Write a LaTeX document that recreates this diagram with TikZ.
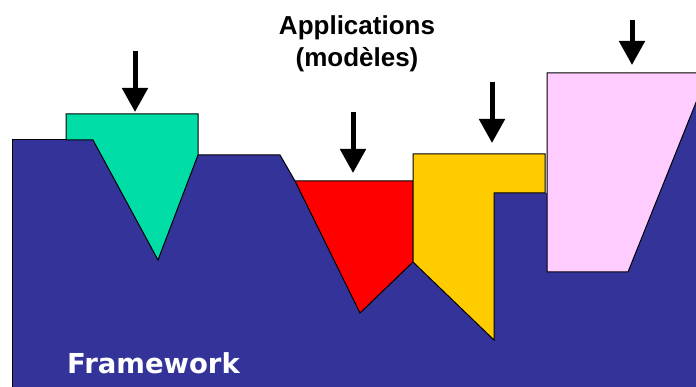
\documentclass[tikz,border=0pt]{standalone}
\usepackage{fontspec}
\newfontfamily\appfont{Liberation Sans}
\newfontfamily\fwfont{DejaVu Sans}
\usetikzlibrary{arrows.meta}
\definecolor{fwblue}{HTML}{333399}
\definecolor{appgreen}{HTML}{00DDA6}
\definecolor{appred}{HTML}{FF0000}
\definecolor{appyellow}{HTML}{FFCC00}
\definecolor{apppink}{HTML}{FFCCFF}

\begin{document}
\begin{tikzpicture}[x=1pt,y=-1pt,>={Triangle[length=24pt,width=25pt]},
    line join=miter,
    piece/.style={draw=black,line width=1pt},
    load/.style={->,line width=5pt}]
    \useasboundingbox (0,0) rectangle (696,387);
    \fill[white] (0,0) rectangle (696,387);

    % The framework, with its grooves.
    \fill[fwblue] (12,387) -- (12,140) -- (93,140) -- (158,260) -- (198,155)
      -- (280,155) -- (295,181) -- (360,313) -- (413,262) -- (494,340)
      -- (494,193) -- (547,193) -- (547,272) -- (628,272) -- (696,100)
      -- (696,387) -- cycle;
    \draw[piece] (12,387) -- (12,140) -- (93,140);
    \draw[piece] (198,155) -- (280,155) -- (295,181);
    \node[anchor=base west,inner sep=0,text=white,
      font=\fwfont\bfseries\fontsize{27.5}{27.5}\selectfont] (fw) at (67,373) {Framework};

    % The applications that plug into it.
    \draw[piece,fill=appgreen] (66,114) -- (198,114) -- (198,155) -- (158,260)
      -- (93,140) -- (66,140) -- cycle;
    \draw[piece,fill=appred] (295,181) -- (413,181) -- (413,262) -- (360,313) -- cycle;
    \draw[piece,fill=appyellow] (413,154) -- (545,154) -- (545,193) -- (494,193)
      -- (494,340) -- (413,262) -- cycle;
    \draw[piece,fill=apppink] (547,73) -- (697,73) -- (697,100) -- (628,272)
      -- (547,272) -- cycle;

    % Arrows pushing each one down.
    \draw[load] (135,51) -- (135,112);
    \draw[load] (353,112) -- (353,173);
    \draw[load] (492,82) -- (492,143);
    \draw[load] (632,20) -- (632,65);

    \node[align=center,inner sep=0,
      font=\appfont\bfseries\fontsize{26}{32}\selectfont] (apps) at (357,44)
      {Applications\\(modèles)};
  \end{tikzpicture}
\end{document}
